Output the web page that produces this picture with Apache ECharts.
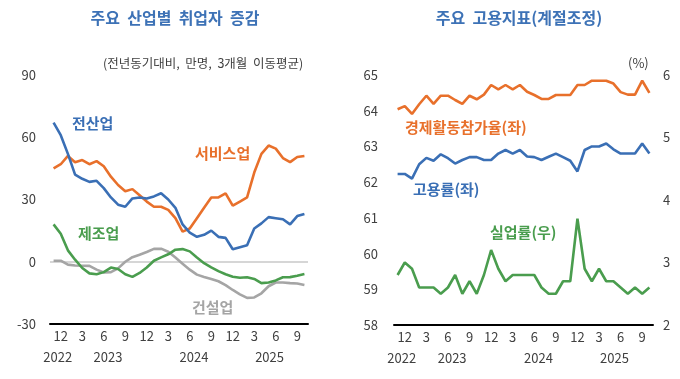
<!DOCTYPE html>
<html><head><meta charset="utf-8">
<script src="https://cdn.jsdelivr.net/npm/echarts@6/dist/echarts.min.js"></script>
<style>html,body{margin:0;padding:0;background:#fff}#c{width:680px;height:379px}</style>
</head><body><div id="c"></div>
<script>
const months = ['2022-11','2022-12','2023-01','2023-02','2023-03','2023-04','2023-05','2023-06','2023-07','2023-08','2023-09','2023-10','2023-11','2023-12',
'2024-01','2024-02','2024-03','2024-04','2024-05','2024-06','2024-07','2024-08','2024-09','2024-10','2024-11','2024-12',
'2025-01','2025-02','2025-03','2025-04','2025-05','2025-06','2025-07','2025-08','2025-09','2025-10'];
const monthTicks = ['12','3','6','9'];
const yearLabelAt = {'2022-12':'2022','2023-07':'2023','2024-07':'2024','2025-05':'2025'};

// 주요 산업별 취업자 증감 (전년동기대비, 만명, 3개월 이동평균)
const allIndustries = [67,61,52,42,40,38.5,39,35.5,31,27.5,26.5,30.5,31,30.5,31.5,33,30,26,18,14,12,13,15,12,11.5,6,7,8,16,18.5,21.5,21,20.5,18,22,23];
const services = [45,47,51,48,49,47,48.5,46,41,37,34,35,32,29,26.5,26.5,25,21,14.5,16,21,26,31,31,33,27,29,31,43,52,56,54.5,50,48,50.5,51];
const manufacturing = [18,13.5,5.5,1,-3,-5.6,-6,-5,-2.8,-3.5,-6,-7.3,-5.4,-2.8,0.5,2.1,3.6,5.8,6.1,5,2,-0.7,-2.7,-4.5,-6,-7.2,-7.7,-7.5,-8.3,-10.3,-10,-9,-7.5,-7.4,-6.7,-5.9];
const construction = [0.5,0.5,-1.4,-1.8,-1.9,-2,-3.8,-5.2,-5,-3.2,0,2.2,3.4,4.7,6.2,6.3,4.8,2,-1,-3.8,-6.2,-7.3,-8.3,-9.4,-11.3,-13.6,-15.7,-17.4,-17.2,-15.2,-11.8,-10,-10,-10.3,-10.5,-11.2];

// 주요 고용지표(계절조정)
const participation = [64.04,64.13,63.91,64.18,64.42,64.19,64.42,64.42,64.3,64.19,64.42,64.32,64.45,64.72,64.6,64.72,64.6,64.72,64.53,64.44,64.33,64.33,64.44,64.44,64.44,64.72,64.72,64.84,64.84,64.84,64.76,64.52,64.45,64.45,64.84,64.5];
const employment = [62.23,62.23,62.1,62.5,62.68,62.6,62.78,62.67,62.52,62.62,62.7,62.7,62.62,62.62,62.8,62.9,62.8,62.9,62.72,62.7,62.62,62.71,62.8,62.7,62.6,62.3,62.9,63.0,63.0,63.08,62.92,62.8,62.8,62.8,63.08,62.8];
const unemployment = [2.8,3.0,2.9,2.6,2.6,2.6,2.5,2.6,2.8,2.5,2.7,2.5,2.8,3.2,2.9,2.7,2.8,2.8,2.8,2.8,2.6,2.5,2.5,2.7,2.7,3.7,2.9,2.7,2.9,2.7,2.7,2.6,2.5,2.6,2.5,2.6];

const leftTicks = [-30, 90, 30];
const rightLTicks = [58, 65, 1];
const rightRTicks = [2, 6, 1];

const BLUE = '#3a6fb5', ORANGE = '#e8702b', GREEN = '#4a9d4e', GRAY = '#a5a5a5', TITLE = '#3d72b6';
const FONT = '"Noto Sans CJK KR", "Noto Sans", sans-serif';
const LBL = '#404040';

function monthAxis(gi) {
  return {
    type: 'category', gridIndex: gi, data: months, boundaryGap: true,
    axisLine: {show: true, onZero: false, lineStyle: {color: '#000', width: 2}},
    axisTick: {show: false},
    axisLabel: {
      interval: (i, v) => monthTicks.includes(String(parseInt(v.slice(5), 10))),
      formatter: v => String(parseInt(v.slice(5), 10)),
      color: LBL, fontSize: 13, fontFamily: FONT, margin: 6
    }
  };
}
function yearAxis(gi) {
  return {
    type: 'category', gridIndex: gi, data: months, boundaryGap: true, position: 'bottom', offset: 21,
    axisLine: {show: false}, axisTick: {show: false},
    axisLabel: {
      interval: 0,
      formatter: v => yearLabelAt[v] ? (v === '2025-05' ? '{b|' + yearLabelAt[v] + '}' : '{a|' + yearLabelAt[v] + '}') : '',
      color: LBL, fontSize: 13, fontFamily: FONT, margin: 6,
      rich: {a: {color: LBL, fontSize: 13, fontFamily: FONT, padding: [0, 6, 0, 0]}, b: {color: LBL, fontSize: 13, fontFamily: FONT, padding: [0, 0, 0, 2]}}
    }
  };
}
function valAxis(gi, t, pos, margin) {
  return {
    type: 'value', gridIndex: gi, min: t[0], max: t[1], interval: t[2], position: pos,
    axisLine: {show: false}, axisTick: {show: false}, splitLine: {show: false},
    axisLabel: {color: LBL, fontSize: 13, fontFamily: FONT, margin: margin}
  };
}
function line(name, data, color, xi, yi, extra) {
  return Object.assign({
    type: 'line', name, data, xAxisIndex: xi, yAxisIndex: yi, symbol: 'none', smooth: false,
    lineStyle: {color, width: 2.6}, itemStyle: {color}, silent: true, z: 3
  }, extra || {});
}
function txt(x, y, text, color, size, weight, align) {
  return {type: 'text', x, y, style: {text, fill: color, fontSize: size, fontWeight: weight, fontFamily: FONT, textAlign: align || 'left', textVerticalAlign: 'middle'}};
}

const chart = echarts.init(document.getElementById('c'), null, {renderer: 'canvas'});
chart.setOption({
  animation: false,
  backgroundColor: '#fff',
  grid: [
    {left: 50, right: 372, top: 75, bottom: 55},
    {left: 394, right: 27, top: 75, bottom: 54}
  ],
  xAxis: [monthAxis(0), yearAxis(0), monthAxis(1), yearAxis(1)],
  yAxis: [valAxis(0, leftTicks, 'left', 14), valAxis(1, rightLTicks, 'left', 16), valAxis(1, rightRTicks, 'right', 10)],
  series: [
    line('건설업', construction, GRAY, 0, 0, {
      z: 2,
      markLine: {silent: true, symbol: 'none', label: {show: false}, lineStyle: {color: '#c9c9c9', width: 1.5, type: 'solid'}, data: [{yAxis: 0}], z: 1}
    }),
    line('제조업', manufacturing, GREEN, 0, 0),
    line('서비스업', services, ORANGE, 0, 0),
    line('전산업', allIndustries, BLUE, 0, 0),
    line('경제활동참가율', participation, ORANGE, 2, 1),
    line('고용률', employment, BLUE, 2, 1),
    line('실업률', unemployment, GREEN, 2, 2)
  ],
  graphic: [
    txt(175, 18, '주요  산업별  취업자  증감', TITLE, 16, 'bold', 'center'),
    txt(519, 18, '주요  고용지표(계절조정)', TITLE, 16, 'bold', 'center'),
    txt(103, 63, '(전년동기대비,  만명,  3개월  이동평균)', '#404040', 12.5, 'normal'),
    txt(628, 63, '(%)', '#404040', 13, 'normal'),
    txt(72, 123, '전산업', BLUE, 15, 'bold'),
    txt(195, 153, '서비스업', ORANGE, 15, 'bold'),
    txt(78, 233, '제조업', GREEN, 15, 'bold'),
    txt(192, 307, '건설업', GRAY, 15, 'bold'),
    txt(405, 127, '경제활동참가율(좌)', ORANGE, 15, 'bold'),
    txt(413, 189, '고용률(좌)', BLUE, 15, 'bold'),
    txt(490, 232, '실업률(우)', GREEN, 15, 'bold')
  ]
});
</script></body></html>
